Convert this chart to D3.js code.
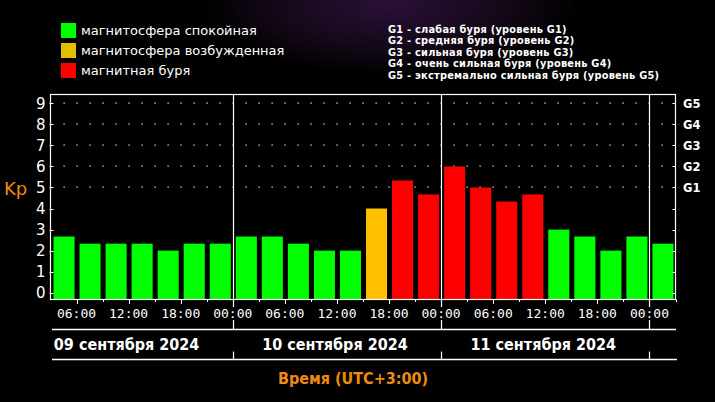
<!DOCTYPE html>
<html>
<head>
<meta charset="utf-8">
<script src="https://cdn.jsdelivr.net/npm/d3@7"></script>
<style>
  html, body { margin: 0; padding: 0; background: #000; }
  svg { display: block; }
</style>
</head>
<body>
<svg id="chart" width="715" height="402"></svg>
<script>
// Kp index, 3-hour intervals starting 09.09.2024 03:00 (UTC+3)
const kpValues = [2.67, 2.33, 2.33, 2.33, 2.0, 2.33, 2.33,
                  2.67, 2.67, 2.33, 2.0, 2.0, 4.0, 5.33, 4.67,
                  6.0, 5.0, 4.33, 4.67, 3.0, 2.67, 2.0, 2.67,
                  2.33];
const kpStatus = ['q', 'q', 'q', 'q', 'q', 'q', 'q',
                  'q', 'q', 'q', 'q', 'q', 'a', 's', 's',
                  's', 's', 's', 's', 'q', 'q', 'q', 'q',
                  'q'];
const dayLabels = ['09 сентября 2024', '10 сентября 2024', '11 сентября 2024'];
const dayStarts = ['2024-09-09T00:00Z', '2024-09-10T00:00Z', '2024-09-11T00:00Z'];
const legendItems = [
    { key: 'q', label: 'магнитосфера спокойная' },
    { key: 'a', label: 'магнитосфера возбужденная' },
    { key: 's', label: 'магнитная буря' }
];
const gLevels = ['G1', 'G2', 'G3', 'G4', 'G5'];
const gLegend = [
    'G1 - слабая буря (уровень G1)',
    'G2 - средняя буря (уровень G2)',
    'G3 - сильная буря (уровень G3)',
    'G4 - очень сильная буря (уровень G4)',
    'G5 - экстремально сильная буря (уровень G5)'
];
const yTicks = [0, 1, 2, 3, 4, 5, 6, 7, 8, 9];

const colors = { q: '#00ff00', a: '#ffc000', s: '#ff0000' };
const legendColors = { q: '#00ff00', a: '#e2c000', s: '#ff0000' };
const orange = '#f08a10';

const H3 = 3 * 3600 * 1000;
const t0 = new Date('2024-09-09T03:00Z');
const t1 = new Date(t0.getTime() + kpValues.length * H3);

const L = 50.5, R = 675.5, T = 94.5, B = 299.5;

const x = d3.scaleUtc().domain([t0, t1]).range([L, R]);
const y = d3.scaleLinear().domain([0, 9]).range([292.7, 103.3]);

const svg = d3.select('#chart');

// background glow
const defs = svg.append('defs');
const glow = defs.append('radialGradient').attr('id', 'glow')
    .attr('cx', '50%').attr('cy', '50%').attr('r', '50%');
glow.append('stop').attr('offset', '0%').attr('stop-color', '#2a1038');
glow.append('stop').attr('offset', '60%').attr('stop-color', '#140818');
glow.append('stop').attr('offset', '100%').attr('stop-color', '#000');
svg.append('rect').attr('width', 715).attr('height', 402).attr('fill', '#000');
svg.append('ellipse').attr('cx', 390).attr('cy', 5).attr('rx', 190).attr('ry', 70)
    .attr('fill', 'url(#glow)');

// legend (status)
const leg = svg.append('g');
legendItems.forEach((d, i) => {
    leg.append('rect').attr('x', 61).attr('y', 23 + i * 20).attr('width', 15).attr('height', 15)
        .attr('fill', legendColors[d.key]);
    leg.append('text').attr('x', 81).attr('y', 35 + i * 20)
        .attr('fill', '#fff').attr('font-family', 'DejaVu Sans').attr('font-size', 13)
        .text(d.label);
});

// legend (G scale)
svg.append('g').selectAll('text').data(gLegend).join('text')
    .attr('x', 388).attr('y', (d, i) => 33 + i * 11.4)
    .attr('fill', '#fff').attr('font-family', 'DejaVu Sans')
    .attr('font-weight', 'bold').attr('font-size', 9.8).attr('letter-spacing', 0.25)
    .text(d => d);

// plot frame background
svg.append('rect').attr('x', L).attr('y', T).attr('width', R - L).attr('height', B - T)
    .attr('fill', '#000');

// dotted grid at G levels
const dotTimes = d3.range(1, kpValues.length * 2).map(k => new Date(t0.getTime() + k * H3 / 2));
const dots = svg.append('g');
[5, 6, 7, 8, 9].forEach(k => {
    dots.selectAll(null).data(dotTimes).join('rect')
        .attr('x', d => Math.round(x(d)) - 0.5).attr('y', Math.round(y(k)) - 0.5)
        .attr('width', 1.2).attr('height', 1.2).attr('fill', '#fff');
});

// bars
const slot = x(new Date(t0.getTime() + H3)) - x(t0);
svg.append('g').selectAll('rect').data(kpValues).join('rect')
    .attr('x', (d, i) => x(new Date(t0.getTime() + i * H3)) + 3)
    .attr('width', slot - 5)
    .attr('y', d => y(d))
    .attr('height', d => B - 0.5 - y(d))
    .attr('fill', (d, i) => colors[kpStatus[i]]);

// frame
svg.append('rect').attr('x', L).attr('y', T).attr('width', R - L).attr('height', B - T)
    .attr('fill', 'none').attr('stroke', '#fff').attr('stroke-width', 1.2);

// day separators
const sepTimes = dayStarts.slice(1).map(s => new Date(s)).concat([new Date('2024-09-12T00:00Z')]);
svg.append('g').selectAll('line').data(sepTimes).join('line')
    .attr('x1', d => Math.round(x(d)) + 0.5).attr('x2', d => Math.round(x(d)) + 0.5)
    .attr('y1', T).attr('y2', 307)
    .attr('stroke', '#fff').attr('stroke-width', 1.2);

// y axis ticks and labels
const ax = svg.append('g');
yTicks.forEach(k => {
    const yy = Math.round(y(k)) + 0.5;
    ax.append('line').attr('x1', L - 1).attr('x2', L + 3).attr('y1', yy).attr('y2', yy).attr('stroke', '#fff');
    ax.append('line').attr('x1', R - 3).attr('x2', R).attr('y1', yy).attr('y2', yy).attr('stroke', '#fff');
    ax.append('text').attr('x', 45.5).attr('y', y(k) + 5.5).attr('text-anchor', 'end')
        .attr('fill', '#fff').attr('font-family', 'DejaVu Sans').attr('font-size', 15)
        .text(k);
});
gLevels.forEach((g, i) => {
    ax.append('text').attr('x', 683).attr('y', y(5 + i) + 4.5)
        .attr('fill', '#fff').attr('font-family', 'DejaVu Sans').attr('font-weight', 'bold')
        .attr('font-size', 11.5).text(g);
});

svg.append('text').attr('x', 4).attr('y', 195).attr('fill', orange)
    .attr('font-family', 'DejaVu Sans').attr('font-size', 18).text('Kp');

// time ticks and labels
const tickTimes = d3.range(1, kpValues.length + 1).map(k => new Date(t0.getTime() + k * H3));
const tx = svg.append('g');
tickTimes.forEach(t => {
    const xx = Math.round(x(t)) + 0.5;
    const major = t.getUTCHours() % 6 === 0;
    tx.append('line').attr('x1', xx).attr('x2', xx).attr('y1', B).attr('y2', B + (major ? 4.5 : 2.5))
        .attr('stroke', '#fff');
    if (major) {
        tx.append('text').attr('x', x(t)).attr('y', 318).attr('text-anchor', 'middle')
            .attr('fill', '#fff').attr('font-family', 'DejaVu Sans Mono').attr('font-size', 13)
            .text(d3.utcFormat('%H:%M')(t));
    }
});

// day axis
const dx = svg.append('g');
dx.append('line').attr('x1', 52).attr('x2', 676).attr('y1', 329.5).attr('y2', 329.5).attr('stroke', '#fff').attr('stroke-width', 1.3);
dx.append('line').attr('x1', 52).attr('x2', 677).attr('y1', 359.5).attr('y2', 359.5).attr('stroke', '#fff').attr('stroke-width', 1.3);
sepTimes.forEach(t => {
    const xx = Math.round(x(t)) + 0.5;
    dx.append('line').attr('x1', xx).attr('x2', xx).attr('y1', 320).attr('y2', 329.5).attr('stroke', '#fff').attr('stroke-width', 1.2);
    dx.append('line').attr('x1', xx).attr('x2', xx).attr('y1', 351.5).attr('y2', 359.5).attr('stroke', '#fff').attr('stroke-width', 1.2);
});
dayLabels.forEach((lab, i) => {
    const s = new Date(dayStarts[i]);
    const mid = (x(s) + x(new Date(s.getTime() + 8 * H3))) / 2;
    dx.append('text').attr('x', mid - 2).attr('y', 349.5).attr('text-anchor', 'middle')
        .attr('fill', '#fff').attr('font-family', 'DejaVu Sans Condensed, DejaVu Sans')
        .attr('font-stretch', 'condensed').attr('font-weight', 'bold').attr('font-size', 16)
        .text(lab);
});

svg.append('text').attr('x', 353).attr('y', 384).attr('text-anchor', 'middle')
    .attr('fill', orange).attr('font-family', 'DejaVu Sans Condensed, DejaVu Sans')
    .attr('font-stretch', 'condensed').attr('font-weight', 'bold').attr('font-size', 16)
    .text('Время (UTC+3:00)');
</script>
</body>
</html>
